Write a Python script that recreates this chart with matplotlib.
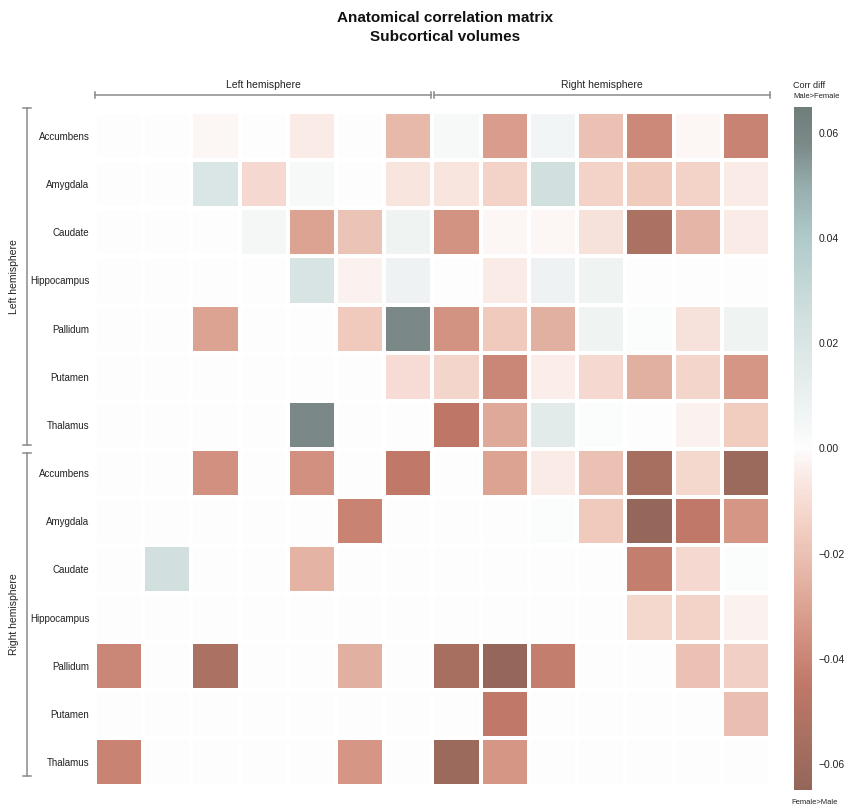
import matplotlib
matplotlib.use("Agg")
import matplotlib.pyplot as plt
import numpy as np
from matplotlib.colors import LinearSegmentedColormap, Normalize
from matplotlib.lines import Line2D
import matplotlib.transforms as mtransforms

plt.rcParams['font.family'] = ['Liberation Sans', 'DejaVu Sans']

regions = ["Accumbens", "Amygdala", "Caudate", "Hippocampus", "Pallidum", "Putamen", "Thalamus"]
hemispheres = ["Left hemisphere", "Right hemisphere"]

# rows: left hemisphere regions (columns: 7 left + 7 right)
left_rows = [
    [0.000, 0.000, -0.002, 0.000, -0.005, 0.000, -0.023,   0.003, -0.032, 0.006, -0.020, -0.039, -0.002, -0.041],
    [0.000, 0.000, 0.020, -0.011, 0.003, 0.000, -0.007,   -0.007, -0.014, 0.025, -0.014, -0.017, -0.014, -0.005],
    [0.000, 0.000, 0.000, 0.004, -0.030, -0.019, 0.007,   -0.035, -0.002, -0.002, -0.008, -0.054, -0.024, -0.005],
    [0.000, 0.000, 0.000, 0.000, 0.021, -0.003, 0.008,    0.000, -0.005, 0.008, 0.007, 0.000, 0.000, 0.000],
    [0.000, 0.000, -0.030, 0.000, 0.000, -0.017, 0.058,   -0.035, -0.017, -0.026, 0.007, 0.001, -0.008, 0.007],
    [0.000, 0.000, 0.000, 0.000, 0.000, 0.000, -0.010,    -0.013, -0.040, -0.004, -0.011, -0.026, -0.013, -0.034],
    [0.000, 0.000, 0.000, 0.000, 0.058, 0.000, 0.000,     -0.046, -0.028, 0.015, 0.001, 0.000, -0.003, -0.016],
]
# rows: right hemisphere regions
right_rows = [
    [0.000, 0.000, -0.036, 0.000, -0.036, 0.000, -0.045,  0.000, -0.030, -0.005, -0.020, -0.056, -0.012, -0.061],
    [0.000, 0.000, 0.000, 0.000, 0.000, -0.041, 0.000,    0.000, 0.000, 0.001, -0.017, -0.064, -0.045, -0.034],
    [0.000, 0.025, 0.000, 0.000, -0.025, 0.000, 0.000,    0.000, 0.000, 0.000, 0.000, -0.043, -0.011, 0.001],
    [0.000, 0.000, 0.000, 0.000, 0.000, 0.000, 0.000,     0.000, 0.000, 0.000, 0.000, -0.012, -0.014, -0.003],
    [-0.040, 0.000, -0.054, 0.000, 0.000, -0.026, 0.000,  -0.056, -0.064, -0.043, 0.000, 0.000, -0.020, -0.015],
    [0.000, 0.000, 0.000, 0.000, 0.000, 0.000, 0.000,     0.000, -0.045, 0.000, 0.000, 0.000, 0.000, -0.021],
    [-0.041, 0.000, 0.000, 0.000, 0.000, -0.034, 0.000,   -0.061, -0.034, 0.000, 0.000, 0.000, 0.000, 0.000],
]

vmin, vmax = -0.065, 0.065
anchors = [
    (-0.065, "#94665a"), (-0.055, "#a97061"), (-0.045, "#c07868"), (-0.035, "#d49484"),
    (-0.025, "#e4b3a4"), (-0.015, "#f2cfc3"), (-0.005, "#faebe6"), (0.0, "#fdfdfd"),
    (0.005, "#f3f6f6"), (0.015, "#e2ebea"), (0.025, "#d1e0df"), (0.040, "#b0caca"),
    (0.050, "#96aead"), (0.058, "#7b8a88"), (0.065, "#6f7d7b"),
]
cmap = LinearSegmentedColormap.from_list(
    "corrdiff", [((v - vmin) / (vmax - vmin), c) for v, c in anchors], N=255)
norm = Normalize(vmin=vmin, vmax=vmax)

M = np.array(left_rows + right_rows)
n = M.shape[0]
labels = regions + regions

W, H = 850, 809
fig = plt.figure(figsize=(W / 100, H / 100), dpi=100)

def fx(px):
    return px / W

def fy(py):
    return 1 - py / H

ax = fig.add_axes([fx(95), fy(786), fx(770) - fx(95), fy(112) - fy(786)])
ax.pcolormesh(np.arange(n + 1), np.arange(n + 1), M, cmap=cmap, norm=norm,
              edgecolors="white", linewidth=2.6)
ax.set_xlim(0, n)
ax.set_ylim(n, 0)
for s in ax.spines.values():
    s.set_visible(False)
ax.set_xticks([])
ax.set_yticks(np.arange(n) + 0.5)
ax.set_yticklabels(labels, fontsize=7, color="#222222")
ax.tick_params(axis="y", length=0, pad=4)

line_kw = dict(color="#8a8a8a", linewidth=1.1)
# top brackets (data x, figure y)
tb = mtransforms.blended_transform_factory(ax.transData, fig.transFigure)
yb = fy(95)
dt = 3 / H
for i, (a, b) in enumerate([(0.0, 6.97), (7.03, 14.0)]):
    fig.add_artist(Line2D([a, b], [yb, yb], transform=tb, **line_kw))
    for e in (a, b):
        fig.add_artist(Line2D([e, e], [yb - dt, yb + dt], transform=tb, **line_kw))
    fig.text((a + b) / 2, fy(90), hemispheres[i], transform=tb,
             fontsize=7.5, ha="center", va="bottom", color="#222222")

# left brackets (figure x, data y)
lb = mtransforms.blended_transform_factory(fig.transFigure, ax.transData)
xb = fx(27)
dl = 4 / W
for i, (a, b) in enumerate([(-0.08, 6.92), (7.08, 13.8)]):
    fig.add_artist(Line2D([xb, xb], [a, b], transform=lb, **line_kw))
    for e in (a, b):
        fig.add_artist(Line2D([xb - dl, xb + dl], [e, e], transform=lb, **line_kw))
    fig.text(fx(14), (a + b) / 2, hemispheres[i], transform=lb, rotation=90,
             fontsize=7.5, ha="center", va="center", color="#222222")

# colorbar
cax = fig.add_axes([fx(794), fy(790), fx(812) - fx(794), fy(107) - fy(790)])
sm = plt.cm.ScalarMappable(norm=norm, cmap=cmap)
cb = fig.colorbar(sm, cax=cax)
cb.set_ticks([-0.06, -0.04, -0.02, 0.0, 0.02, 0.04, 0.06])
cb.set_ticklabels(["\u22120.06", "\u22120.04", "\u22120.02", "0.00", "0.02", "0.04", "0.06"])
cb.ax.tick_params(length=0, labelsize=7.5, pad=5, colors="#222222")
cb.outline.set_visible(False)
fig.text(fx(793), fy(86), "Corr diff", fontsize=6.5, ha="left", va="center", color="#222222")
fig.text(fx(793), fy(97), "Male>Female", fontsize=5.5, ha="left", va="center", color="#222222")
fig.text(fx(815), fy(803), "Female>Male", fontsize=5.5, ha="center", va="center", color="#222222")

fig.text(fx(445), fy(18), "Anatomical correlation matrix", fontsize=11, fontweight="bold",
         ha="center", va="center", color="#111111")
fig.text(fx(445), fy(37), "Subcortical volumes", fontsize=11, fontweight="bold",
         ha="center", va="center", color="#111111")

fig.savefig("out.png", dpi=100)
